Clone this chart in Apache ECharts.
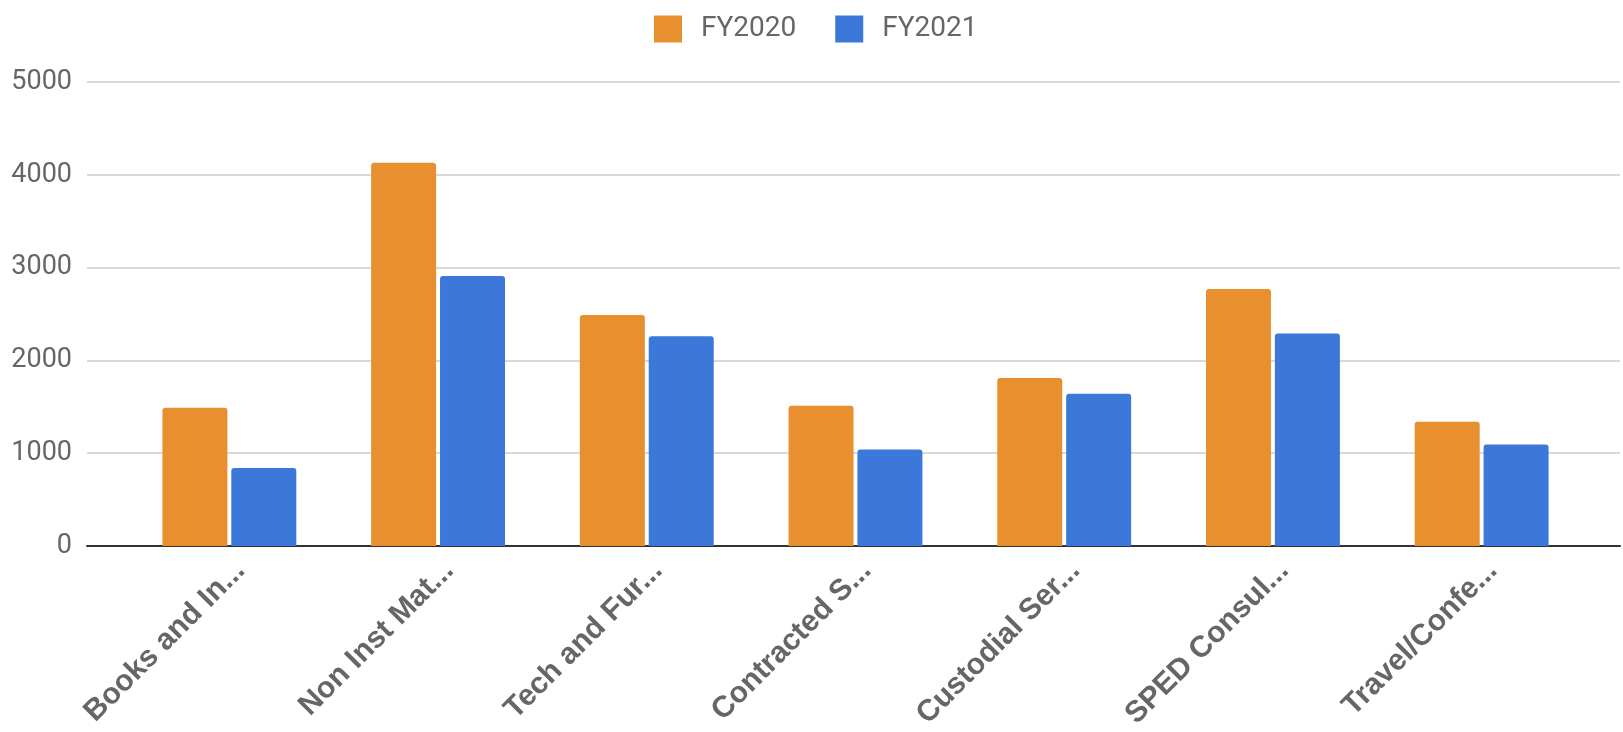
<!DOCTYPE html>
<html>
<head>
<meta charset="utf-8">
<script src="https://cdn.jsdelivr.net/npm/echarts@6/dist/echarts.min.js"></script>
<style>
  html, body { margin: 0; padding: 0; background: #fff; }
  #chart { width: 1623px; height: 732px; }
</style>
</head>
<body>
<div id="chart"></div>
<script>
// 数据
const categories = ['Books and In...', 'Non Inst Mat...', 'Tech and Fur...', 'Contracted S...',
    'Custodial Ser...', 'SPED Consul...', 'Travel/Confe...'];
const seriesNames = ['FY2020', 'FY2021'];
const fy2020 = [1490, 4130, 2490, 1510, 1810, 2770, 1340];
const fy2021 = [840, 2910, 2260, 1040, 1640, 2290, 1095];
const yTicks = [0, 1000, 2000, 3000, 4000, 5000];

const colors = ['#e8902f', '#3b78d9'];
const font = 'Roboto, "Noto Sans", sans-serif';
const labelFont = '"Liberation Sans", Arial, sans-serif';

const chart = echarts.init(document.getElementById('chart'));

chart.setOption({
    animation: false,
    textStyle: { fontFamily: font },
    legend: {
        data: seriesNames,
        left: 649,
        top: 10,
        itemWidth: 28,
        itemHeight: 27,
        itemGap: 39,
        icon: 'rect',
        textStyle: { fontSize: 28, color: '#666', fontFamily: font, padding: [0, 0, 0, 14] }
    },
    grid: [
        // 柱子所在区域
        { left: 125, right: 37, top: 82, bottom: 186 },
        // 网格线 / 坐标轴区域（比柱子区域更宽）
        { left: 87, right: 3, top: 82, bottom: 186 },
        // 类目标签（略微右移）
        { left: 136, right: 26, top: 82, bottom: 186 }
    ],
    xAxis: [{
        type: 'category',
        gridIndex: 0,
        data: categories,
        axisLine: { show: false },
        axisTick: { show: false },
        axisLabel: { show: false }
    }, {
        type: 'category',
        gridIndex: 1,
        data: [''],
        axisLine: { show: true, lineStyle: { color: '#333', width: 2 } },
        axisTick: { show: false },
        axisLabel: { show: false }
    }, {
        type: 'category',
        gridIndex: 2,
        data: categories,
        axisLine: { show: false },
        axisTick: { show: false },
        axisLabel: {
            rotate: 45,
            interval: 0,
            margin: 27,
            fontSize: 30,
            fontWeight: 'bold',
            color: '#666',
            fontFamily: labelFont
        }
    }],
    yAxis: [{
        type: 'value',
        gridIndex: 0,
        min: 0,
        max: yTicks[yTicks.length - 1],
        interval: 1000,
        show: false
    }, {
        type: 'value',
        gridIndex: 1,
        min: 0,
        max: yTicks[yTicks.length - 1],
        interval: 1000,
        axisLine: { show: false },
        axisTick: { show: false },
        axisLabel: { fontSize: 27, color: '#666', margin: 15, fontFamily: font, formatter: v => String(v) },
        splitLine: { lineStyle: { color: '#cccccc', width: 1.5 } }
    }, {
        type: 'value',
        gridIndex: 2,
        min: 0,
        max: yTicks[yTicks.length - 1],
        show: false
    }],
    series: [{
        name: seriesNames[0],
        type: 'bar',
        xAxisIndex: 0,
        yAxisIndex: 0,
        data: fy2020,
        barWidth: 65,
        barGap: '6%',
        itemStyle: { color: colors[0], borderRadius: [3, 3, 0, 0] }
    }, {
        name: seriesNames[1],
        type: 'bar',
        xAxisIndex: 0,
        yAxisIndex: 0,
        data: fy2021,
        barWidth: 65,
        barGap: '6%',
        itemStyle: { color: colors[1], borderRadius: [3, 3, 0, 0] }
    }]
});
</script>
</body>
</html>
